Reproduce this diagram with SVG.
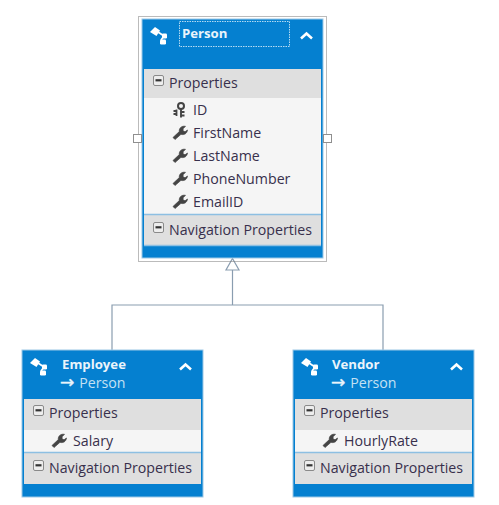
<svg xmlns="http://www.w3.org/2000/svg" xmlns:xlink="http://www.w3.org/1999/xlink" width="499" height="505" viewBox="0 0 499 505">
<style>
text{font-family:"Open Sans","Noto Sans","Liberation Sans",sans-serif}
.frame{fill:#0580D0;stroke:#9CC8E6;stroke-width:1}
.sec{fill:#DFDFDF}
.rows{fill:#F5F5F5}
.sep{stroke:#8DBFE2;stroke-width:1.5;fill:none}
.t{font-size:14.2px;fill:#38304C}
.title{font-size:13.2px;font-weight:700;fill:#EAF4FB}
.base{font-size:14.2px;fill:#C4E0F3}
.arr{font-family:"DejaVu Sans",sans-serif;font-size:17px;fill:#EAF4FB;stroke:#EAF4FB;stroke-width:0.4}
.conn{fill:none;stroke:#8A9DB0;stroke-width:1.2}
.handle{fill:#fff;stroke:#8f8f8f;stroke-width:1}
</style>
<defs>
<g id="ent">
<path d="M0,5 L5,0 L10,3.500 L6.500,9 Z" fill="#fff"/>
<path d="M8,5 L14,9 M11,13 L14,9" stroke="#fff" stroke-width="1.700" fill="none"/>
<rect x="12" y="6.500" width="5" height="5" rx="1.200" fill="#fff"/>
<rect x="10" y="12.500" width="6" height="5" rx="1.200" fill="#fff"/>
</g>
<g id="chev"><path d="M1,7.500 L6.500,2.500 L12,7.500" fill="none" stroke="#fff" stroke-width="2.600"/></g>
<g id="box"><rect x="0.500" y="0.500" width="10" height="10" rx="1.500" fill="#EDEDED" stroke="#8a8a8a"/><rect x="2.500" y="4.200" width="6" height="2.200" fill="#333"/></g>
<path id="wrench" d="M0,12.500 L2,14.500 L8,9.300 C10.800,10.300 14,8.800 14.500,5 L12,6.800 L10,5.800 L10.200,3.400 L12.500,1.400 C8.800,0.400 5.800,3.200 6.300,6.600 Z" fill="#444" stroke="#444" stroke-width="0.700" stroke-linejoin="round"/>
<g id="key"><circle cx="8" cy="4" r="3" fill="none" stroke="#444" stroke-width="2"/><path d="M8,6.500 V15.500 M8,10 H11.500 M8,13.500 H11.500" stroke="#444" stroke-width="1.900" fill="none"/><path d="M3.500,7.500 V14 M0.500,9 H3.500 M0.500,12 H3.500" stroke="#444" stroke-width="1.800" fill="none"/></g>
</defs>
<rect width="499" height="505" fill="#fff"/>
<g id="connectors">
<path class="conn" d="M112,350 V305 H383 V350 M232.500,270 V305"/>
<path d="M232.500,258.500 L239,270 H226 Z" fill="#fff" stroke="#8A9DB0" stroke-width="1.200"/>
</g>
<g id="person">
<rect x="138.500" y="16.500" width="188" height="245" fill="none" stroke="#777" stroke-width="1" stroke-dasharray="1 1"/>
<rect class="frame" x="142" y="19" width="181" height="239"/>
<rect class="sec" x="144" y="69" width="177" height="29"/>
<rect class="rows" x="144" y="98" width="177" height="116"/>
<rect class="sec" x="144" y="215" width="177" height="31"/>
<path class="sep" d="M144,214.500 H321 M144,245.500 H321"/>
<rect x="179.500" y="21.500" width="110" height="25" fill="none" stroke="#B5DAF2" stroke-width="1" stroke-dasharray="1.500 1"/>
<use xlink:href="#ent" href="#ent" x="150" y="27"/>
<use xlink:href="#chev" href="#chev" x="300" y="31"/>
<text class="title" x="182" y="38">Person</text>
<use xlink:href="#box" href="#box" x="153" y="75"/>
<text class="t" x="169" y="88">Properties</text>
<use xlink:href="#key" href="#key" x="173" y="102"/>
<text class="t" x="193" y="115">ID</text>
<use xlink:href="#wrench" href="#wrench" x="173" y="125"/>
<text class="t" x="193" y="138">FirstName</text>
<use xlink:href="#wrench" href="#wrench" x="173" y="148"/>
<text class="t" x="193" y="161">LastName</text>
<use xlink:href="#wrench" href="#wrench" x="173" y="171"/>
<text class="t" x="193" y="184">PhoneNumber</text>
<use xlink:href="#wrench" href="#wrench" x="173" y="194"/>
<text class="t" x="193" y="207">EmailID</text>
<use xlink:href="#box" href="#box" x="153" y="222"/>
<text class="t" x="169" y="235">Navigation Properties</text>
<rect class="handle" x="133.500" y="134.500" width="8" height="8"/>
<rect class="handle" x="323.500" y="134.500" width="8" height="8"/>
</g>
<g id="employee">
<rect class="frame" x="22" y="350" width="181" height="147"/>
<rect class="sec" x="24" y="399" width="177" height="31"/>
<rect class="rows" x="24" y="430" width="177" height="22"/>
<rect class="sec" x="24" y="453" width="177" height="31"/>
<path class="sep" d="M24,452.500 H201"/>
<use xlink:href="#ent" href="#ent" x="30" y="358"/>
<use xlink:href="#chev" href="#chev" x="179" y="362"/>
<text class="title" x="62" y="369">Employee</text>
<text class="base" x="60" y="388"><tspan class="arr">→</tspan><tspan x="75.500"> Person</tspan></text>
<use xlink:href="#box" href="#box" x="33" y="405"/>
<text class="t" x="49" y="418">Properties</text>
<use xlink:href="#wrench" href="#wrench" x="52" y="433"/>
<text class="t" x="73" y="446">Salary</text>
<use xlink:href="#box" href="#box" x="33" y="460"/>
<text class="t" x="49" y="473">Navigation Properties</text>
</g>
<g id="vendor">
<rect class="frame" x="293" y="350" width="181" height="147"/>
<rect class="sec" x="295" y="399" width="177" height="31"/>
<rect class="rows" x="295" y="430" width="177" height="22"/>
<rect class="sec" x="295" y="453" width="177" height="31"/>
<path class="sep" d="M295,452.500 H472"/>
<use xlink:href="#ent" href="#ent" x="301" y="358"/>
<use xlink:href="#chev" href="#chev" x="450" y="362"/>
<text class="title" x="332" y="369">Vendor</text>
<text class="base" x="331" y="388"><tspan class="arr">→</tspan><tspan x="346.500"> Person</tspan></text>
<use xlink:href="#box" href="#box" x="304" y="405"/>
<text class="t" x="320" y="418">Properties</text>
<use xlink:href="#wrench" href="#wrench" x="323" y="433"/>
<text class="t" x="344" y="446">HourlyRate</text>
<use xlink:href="#box" href="#box" x="304" y="460"/>
<text class="t" x="320" y="473">Navigation Properties</text>
</g>
</svg>
